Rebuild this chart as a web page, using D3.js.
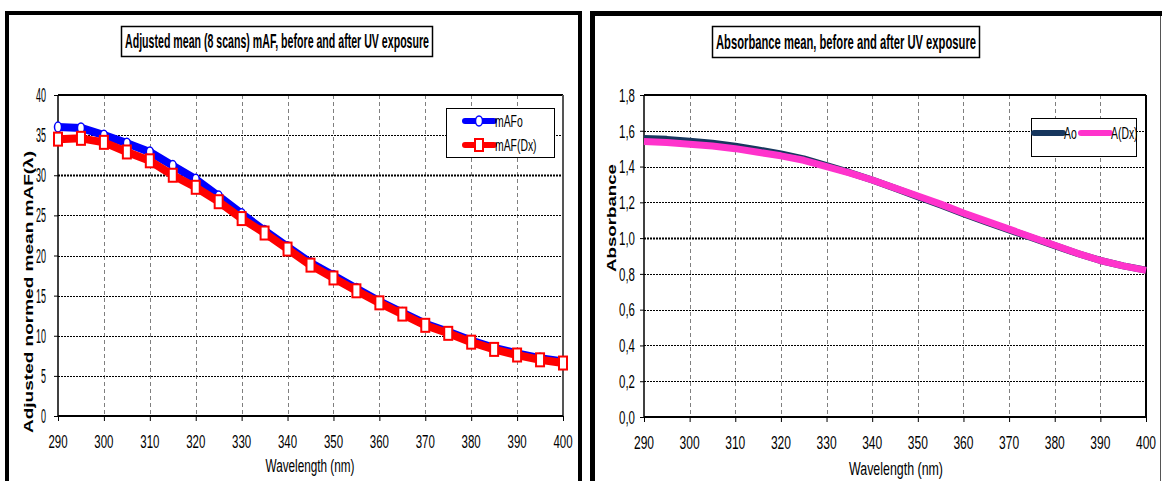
<!DOCTYPE html>
<html>
<head>
<meta charset="utf-8">
<script src="https://cdn.jsdelivr.net/npm/d3@7"></script>
<style>
  html, body { margin: 0; padding: 0; background: #fff; }
  svg { display: block; }
  text { font-family: "Liberation Sans", Arial, sans-serif; fill: #000; }
</style>
</head>
<body>
<svg id="chart" width="1162" height="481"></svg>
<script>
// Wavelength grid (nm) shared by both panels
const wavelengths = [290, 295, 300, 305, 310, 315, 320, 325, 330, 335, 340, 345,
                     350, 355, 360, 365, 370, 375, 380, 385, 390, 395, 400];

// Adjusted normed mean mAF, before (mAFo) and after (mAF(Dx)) UV exposure
const mAFo  = [36.0, 35.9, 35.0, 34.0, 32.9, 31.2, 29.5, 27.4, 25.2, 23.1, 21.1, 19.1,
               17.5, 15.9, 14.3, 12.9, 11.5, 10.5, 9.4, 8.5, 7.8, 7.2, 6.8];
const mAFDx = [34.5, 34.6, 34.1, 32.9, 31.8, 30.0, 28.5, 26.7, 24.6, 22.8, 20.8, 18.8,
               17.2, 15.6, 14.1, 12.7, 11.3, 10.3, 9.2, 8.3, 7.6, 7.0, 6.6];

// Absorbance mean, before (Ao) and after (A(Dx)) UV exposure
const absAo  = [1.557, 1.552, 1.541, 1.530, 1.514, 1.493, 1.470, 1.443, 1.405, 1.367, 1.325, 1.279,
                1.231, 1.185, 1.136, 1.090, 1.046, 1.002, 0.958, 0.914, 0.875, 0.845, 0.821];
const absADx = [1.540, 1.535, 1.525, 1.515, 1.500, 1.480, 1.460, 1.435, 1.400, 1.365, 1.325, 1.280,
                1.235, 1.190, 1.140, 1.095, 1.050, 1.005, 0.960, 0.915, 0.875, 0.845, 0.820];

// Tick values
const wlTicks  = [290, 300, 310, 320, 330, 340, 350, 360, 370, 380, 390, 400];
const mafTicks = [0, 5, 10, 15, 20, 25, 30, 35, 40];
const absTicks = [0, 0.2, 0.4, 0.6, 0.8, 1.0, 1.2, 1.4, 1.6, 1.8];

// Text
const leftTitle  = "Adjusted mean (8 scans) mAF, before and after UV exposure";
const rightTitle = "Absorbance mean, before and after UV exposure";
const xTitle     = "Wavelength (nm)";
const leftYTitle = "Adjusted normed mean mAF(\u03BB)";
const rightYTitle = "Absorbance";
const leftSeriesNames  = ["mAFo", "mAF(Dx)"];
const rightSeriesNames = ["Ao", "A(Dx)"];

const svg = d3.select("#chart");

// Text drawn inside a scaled group (condensed, tall lettering)
function label(parent, x, y, str, opt) {
  const o = Object.assign({ size: 14, sx: 0.82, sy: 1.25, anchor: "middle", weight: "normal", rotate: 0 }, opt || {});
  const g = parent.append("g")
    .attr("transform", `translate(${x},${y}) rotate(${o.rotate}) scale(${o.sx},${o.sy})`);
  const t = g.append("text")
    .attr("text-anchor", o.anchor)
    .attr("dy", "0.36em")
    .style("font-size", o.size + "px")
    .style("font-weight", o.weight)
    .text(str);
  if (o.length) t.attr("textLength", o.length / o.sx).attr("lengthAdjust", "spacingAndGlyphs");
  return t;
}

function panel(cfg) {
  const g = svg.append("g");
  const x = d3.scaleLinear().domain([290, 400]).range([cfg.x0, cfg.x1]);
  const y = d3.scaleLinear().domain(cfg.yDomain).range([cfg.y0, cfg.y1]);

  // vertical dashed gridlines
  g.append("g").selectAll("line").data(wlTicks.slice(1, -1)).join("line")
    .attr("x1", d => Math.round(x(d)) + 0.5).attr("x2", d => Math.round(x(d)) + 0.5)
    .attr("y1", cfg.y1).attr("y2", cfg.y0)
    .attr("stroke", "#7f7f7f").attr("stroke-width", 1).attr("stroke-dasharray", "4,3");

  // horizontal dotted gridlines
  g.append("g").selectAll("line").data(cfg.yTicks.slice(1, -1)).join("line")
    .attr("x1", cfg.x0).attr("x2", cfg.x1)
    .attr("y1", d => Math.round(y(d)) + 0.5).attr("y2", d => Math.round(y(d)) + 0.5)
    .attr("stroke", "#000").attr("stroke-width", d => d === cfg.boldGrid ? 2 : 1)
    .attr("stroke-dasharray", "2,1");

  // plot frame: top and right edges
  g.append("line").attr("x1", cfg.x0).attr("x2", cfg.x1).attr("y1", cfg.y1).attr("y2", cfg.y1)
    .attr("stroke", "#000").attr("stroke-width", 2);
  g.append("line").attr("x1", cfg.x1).attr("x2", cfg.x1).attr("y1", cfg.y1).attr("y2", cfg.y0)
    .attr("stroke", cfg.rightEdge).attr("stroke-width", 2);

  // axes
  const xAxis = g.append("g").attr("transform", `translate(0,${cfg.y0})`)
    .call(d3.axisBottom(x).tickValues(wlTicks).tickSize(5).tickFormat(""));
  const yAxis = g.append("g").attr("transform", `translate(${cfg.x0},0)`)
    .call(d3.axisLeft(y).tickValues(cfg.yTicks).tickSize(4).tickFormat(""));
  xAxis.select(".domain").attr("stroke", "#000").attr("stroke-width", 2).attr("d", `M${cfg.x0},0H${cfg.x1}`);
  yAxis.select(".domain").attr("stroke", "#000").attr("stroke-width", 1.5).attr("d", `M0,${cfg.y0}V${cfg.y1}`);
  g.selectAll(".tick line").attr("stroke", "#000");

  // tick labels
  wlTicks.forEach(v => label(g, x(v), cfg.xLabelY, String(v), cfg.xLab));
  cfg.yTicks.forEach(v => label(g, cfg.x0 - cfg.yLabelGap, y(v), cfg.fmt(v),
    Object.assign({ anchor: "end" }, cfg.yLab)));

  return { g, x, y };
}

// ---- panel borders ----
svg.append("rect").attr("x", 7).attr("y", 13).attr("width", 573).attr("height", 520)
  .attr("fill", "none").attr("stroke", "#000").attr("stroke-width", 4);
svg.append("rect").attr("x", 592.5).attr("y", 13.5).attr("width", 620).attr("height", 520)
  .attr("fill", "none").attr("stroke", "#000").attr("stroke-width", 5);
svg.append("line").attr("x1", 1160.5).attr("x2", 1160.5).attr("y1", 16).attr("y2", 481)
  .attr("stroke", "#555").attr("stroke-width", 1);

// ---- left panel: mAF ----
const L = panel({
  x0: 58, x1: 563, y0: 416, y1: 95, yDomain: [0, 40], yTicks: mafTicks, boldGrid: 30,
  rightEdge: "#555", xLabelY: 441, yLabelGap: 12, fmt: d => String(d),
  xLab: { size: 14, sx: 0.82, sy: 1.35 }, yLab: { size: 14, sx: 0.64, sy: 1.4 }
});

const lineL = vals => d3.line().x((d, i) => L.x(wavelengths[i])).y(d => L.y(d))(vals);

L.g.append("path").attr("d", lineL(mAFo)).attr("fill", "none")
  .attr("stroke", "#0000ff").attr("stroke-width", 8).attr("stroke-linejoin", "round");
L.g.append("g").selectAll("ellipse").data(mAFo).join("ellipse")
  .attr("cx", (d, i) => L.x(wavelengths[i])).attr("cy", d => L.y(d))
  .attr("rx", 3.5).attr("ry", 5).attr("fill", "#fff").attr("stroke", "#0000ff").attr("stroke-width", 1.5);

L.g.append("path").attr("d", lineL(mAFDx)).attr("fill", "none")
  .attr("stroke", "#ff0000").attr("stroke-width", 8).attr("stroke-linejoin", "round");
L.g.append("g").selectAll("rect").data(mAFDx).join("rect")
  .attr("x", (d, i) => L.x(wavelengths[i]) - 4).attr("y", d => L.y(d) - 6.5)
  .attr("width", 8).attr("height", 13).attr("fill", "#fff").attr("stroke", "#ff0000").attr("stroke-width", 2);

// left legend
const lg = L.g.append("g");
lg.append("rect").attr("x", 446.5).attr("y", 108.5).attr("width", 108).attr("height", 49)
  .attr("fill", "#fff").attr("stroke", "#000").attr("stroke-width", 1);
[["#0000ff", 121], ["#ff0000", 145]].forEach(([c, yy], i) => {
  lg.append("line").attr("x1", 465).attr("x2", 494).attr("y1", yy).attr("y2", yy)
    .attr("stroke", c).attr("stroke-width", 6).attr("stroke-linecap", "round");
  if (i === 0) {
    lg.append("ellipse").attr("cx", 479).attr("cy", yy).attr("rx", 3.5).attr("ry", 5)
      .attr("fill", "#fff").attr("stroke", c).attr("stroke-width", 1.5);
  } else {
    lg.append("rect").attr("x", 475).attr("y", yy - 6).attr("width", 8).attr("height", 12)
      .attr("fill", "#fff").attr("stroke", c).attr("stroke-width", 2);
  }
  label(lg, 495, yy, leftSeriesNames[i], { anchor: "start", size: 13, sx: 0.8, sy: 1.3 });
});

// left titles
svg.append("rect").attr("x", 121.5).attr("y", 26.5).attr("width", 311).attr("height", 30)
  .attr("fill", "#fff").attr("stroke", "#000").attr("stroke-width", 1.5);
label(svg, 277, 41, leftTitle, { size: 15, sx: 0.82, sy: 1.3, weight: "bold", length: 304 });
label(svg, 310, 465, xTitle, { size: 14, sx: 0.82, sy: 1.35, length: 89 });
label(svg, 28, 292, leftYTitle, { size: 13, sx: 1, sy: 1, weight: "bold", rotate: -90, length: 282 });

// ---- right panel: absorbance ----
const commaFmt = d => d3.format(".1f")(d).replace(".", ",");
const R = panel({
  x0: 644, x1: 1146, y0: 417, y1: 95, yDomain: [0, 1.8], yTicks: absTicks, boldGrid: 1.0,
  rightEdge: "#000", xLabelY: 442, yLabelGap: 9, fmt: commaFmt,
  xLab: { size: 14, sx: 0.86, sy: 1.35 }, yLab: { size: 14, sx: 0.82, sy: 1.35 }
});

const lineR = vals => d3.line().x((d, i) => R.x(wavelengths[i])).y(d => R.y(d))(vals);
R.g.append("path").attr("d", lineR(absAo)).attr("fill", "none")
  .attr("stroke", "#17375e").attr("stroke-width", 7).attr("stroke-linejoin", "round");
R.g.append("path").attr("d", lineR(absADx)).attr("fill", "none")
  .attr("stroke", "#ff33cc").attr("stroke-width", 7).attr("stroke-linejoin", "round");

// right legend
const rg = R.g.append("g");
rg.append("rect").attr("x", 1031.5).attr("y", 118.5).attr("width", 105).attr("height", 38)
  .attr("fill", "#fff").attr("stroke", "#000").attr("stroke-width", 1);
[["#17375e", 1034, 1063, 1064], ["#ff33cc", 1081, 1110, 1111]].forEach(([c, a, b, t], i) => {
  rg.append("line").attr("x1", a).attr("x2", b).attr("y1", 133).attr("y2", 133)
    .attr("stroke", c).attr("stroke-width", 6).attr("stroke-linecap", "round");
  label(rg, t, 133, rightSeriesNames[i], { anchor: "start", size: 13, sx: 0.8, sy: 1.3 });
});

// right titles
svg.append("rect").attr("x", 712.5).attr("y", 26.5).attr("width", 267).attr("height", 31)
  .attr("fill", "#fff").attr("stroke", "#000").attr("stroke-width", 1.5);
label(svg, 846, 42, rightTitle, { size: 15, sx: 0.82, sy: 1.3, weight: "bold", length: 260 });
label(svg, 896, 468, xTitle, { size: 14, sx: 0.86, sy: 1.35, length: 94 });
label(svg, 612, 218, rightYTitle, { size: 12, sx: 1, sy: 1, weight: "bold", rotate: -90, length: 108 });
</script>
</body>
</html>
